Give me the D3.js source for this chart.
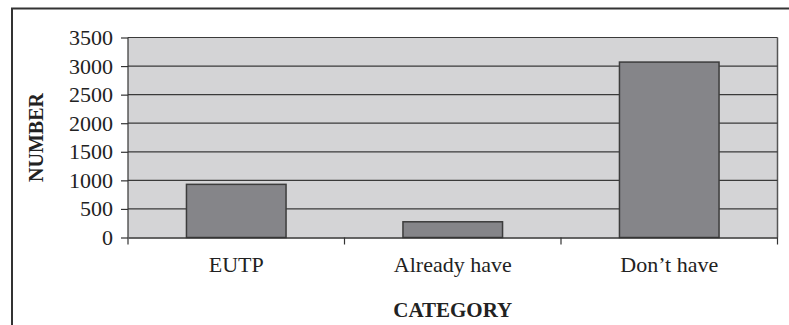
<!DOCTYPE html>
<html>
<head>
<meta charset="utf-8">
<script src="https://cdn.jsdelivr.net/npm/d3@7"></script>
<style>
  body { margin: 0; background: #fff; }
  text { font-family: "Liberation Serif", "Times New Roman", serif; fill: #222; }
</style>
</head>
<body>
<div id="chart"></div>
<script>
// chart data
const categories = ['EUTP', 'Already have', 'Don\u2019t have'];
const numbers = [930, 275, 3070];
const yTicks = [0, 500, 1000, 1500, 2000, 2500, 3000, 3500];

const width = 789, height = 325;
const margin = { top: 37.5, right: 11.5, bottom: 87.5, left: 128 };
const plotW = width - margin.left - margin.right;
const plotH = height - margin.top - margin.bottom;

const svg = d3.select('#chart')
  .append('svg')
  .attr('width', width)
  .attr('height', height);

// outer frame (left + top edges visible)
svg.append('path')
  .attr('d', 'M12,' + height + 'V8.5H' + width)
  .attr('fill', 'none')
  .attr('stroke', '#333')
  .attr('stroke-width', 2);

const g = svg.append('g')
  .attr('transform', 'translate(' + margin.left + ',' + margin.top + ')');

const x = d3.scaleBand()
  .domain(categories)
  .range([0, plotW])
  .paddingInner(0.54)
  .paddingOuter(0.27);

const y = d3.scaleLinear()
  .domain([0, 3500])
  .range([plotH, 0]);

// plot background
g.append('rect')
  .attr('width', plotW)
  .attr('height', plotH)
  .attr('fill', '#d4d4d6');

// right border of plot area
g.append('line')
  .attr('x1', plotW).attr('x2', plotW)
  .attr('y1', 0).attr('y2', plotH)
  .attr('stroke', '#555')
  .attr('stroke-width', 1.5);

// gridlines
g.selectAll('.grid')
  .data(yTicks.filter(d => d > 0))
  .enter()
  .append('line')
  .attr('x1', 0).attr('x2', plotW)
  .attr('y1', d => y(d)).attr('y2', d => y(d))
  .attr('stroke', '#3a3a3a')
  .attr('stroke-width', 1.2);

// bars
g.selectAll('.bar')
  .data(numbers)
  .enter()
  .append('rect')
  .attr('x', (d, i) => x(categories[i]))
  .attr('y', d => y(d))
  .attr('width', x.bandwidth())
  .attr('height', d => plotH - y(d))
  .attr('fill', '#858589')
  .attr('stroke', '#3c3c3c')
  .attr('stroke-width', 1.5);

// y axis
const yAxis = g.append('g')
  .call(d3.axisLeft(y).tickValues(yTicks).tickFormat(d3.format('d'))
    .tickSize(7).tickSizeOuter(0).tickPadding(8));
yAxis.select('.domain').remove();
yAxis.selectAll('line').attr('stroke', '#333').attr('stroke-width', 1.2);
yAxis.selectAll('text').style('font-size', '22px').attr('fill', '#222');

g.append('line')
  .attr('x1', 0).attr('x2', 0)
  .attr('y1', 0).attr('y2', plotH + 7)
  .attr('stroke', '#333')
  .attr('stroke-width', 1.2);

// x axis
const xAxis = g.append('g')
  .attr('transform', 'translate(0,' + plotH + ')')
  .call(d3.axisBottom(x).tickSize(0).tickPadding(19));
xAxis.select('.domain').attr('stroke', '#333').attr('stroke-width', 1.5);
xAxis.selectAll('text').style('font-size', '22px').attr('fill', '#222');

// category separator ticks
g.selectAll('.xtick')
  .data(categories)
  .enter()
  .append('line')
  .attr('x1', (d, i) => x.step() * (i + 1))
  .attr('x2', (d, i) => x.step() * (i + 1))
  .attr('y1', plotH).attr('y2', plotH + 7)
  .attr('stroke', '#333')
  .attr('stroke-width', 1.2);

// axis titles
svg.append('text')
  .attr('x', margin.left + plotW / 2)
  .attr('y', 317)
  .attr('text-anchor', 'middle')
  .style('font-size', '21px')
  .style('font-weight', 'bold')
  .text('CATEGORY');

svg.append('text')
  .attr('transform', 'translate(43,' + (margin.top + plotH / 2) + ') rotate(-90)')
  .attr('text-anchor', 'middle')
  .style('font-size', '20px')
  .style('font-weight', 'bold')
  .text('NUMBER');
</script>
</body>
</html>
